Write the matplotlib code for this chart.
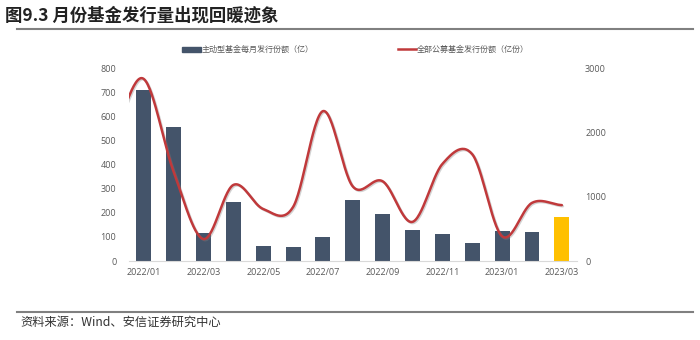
import numpy as np
import matplotlib
matplotlib.use("Agg")
import matplotlib.pyplot as plt
import matplotlib.patheffects as pe
from matplotlib.lines import Line2D
from matplotlib.patches import Patch

plt.rcParams['font.family'] = ['Open Sans', 'Noto Sans CJK SC', 'DejaVu Sans']

# ---------------- DATA ----------------
months = ["2022/01", "2022/02", "2022/03", "2022/04", "2022/05", "2022/06", "2022/07",
          "2022/08", "2022/09", "2022/10", "2022/11", "2022/12", "2023/01", "2023/02",
          "2023/03"]
# active funds, monthly issuance (100m shares)
active_issue = [710, 555, 115, 243, 62, 58, 101, 252, 195, 130, 113, 73, 126, 119, 182]
# all public funds, monthly issuance (100m shares); first value is 2021/12
all_issue_prev = 2100
all_issue = [2830, 1390, 343, 1183, 810, 840, 2330, 1160, 1240, 610, 1510, 1660, 385, 905, 870]

BAR_COLOR = "#44546A"
HIGHLIGHT = "#FFC000"
LINE_COLOR = "#C0393B"
TICK_COLOR = "#595959"


def smooth(xs, ys, n=30):
    # catmull-rom curve through the points, like office "smoothed line"
    xs = np.asarray(xs, float)
    ys = np.asarray(ys, float)
    px = np.concatenate([[2 * xs[0] - xs[1]], xs, [2 * xs[-1] - xs[-2]]])
    py = np.concatenate([[ys[0]], ys, [ys[-1]]])
    out_x, out_y = [], []
    for i in range(1, len(px) - 2):
        t = np.linspace(0, 1, n, endpoint=False)
        mx0 = (px[i + 1] - px[i - 1]) / 2
        mx1 = (px[i + 2] - px[i]) / 2
        my0 = (py[i + 1] - py[i - 1]) / 2
        my1 = (py[i + 2] - py[i]) / 2
        h00 = 2 * t**3 - 3 * t**2 + 1
        h10 = t**3 - 2 * t**2 + t
        h01 = -2 * t**3 + 3 * t**2
        h11 = t**3 - t**2
        out_x.append(h00 * px[i] + h10 * mx0 + h01 * px[i + 1] + h11 * mx1)
        out_y.append(h00 * py[i] + h10 * my0 + h01 * py[i + 1] + h11 * my1)
    out_x.append([xs[-1]])
    out_y.append([ys[-1]])
    return np.concatenate(out_x), np.concatenate(out_y)


fig = plt.figure(figsize=(7, 3.4), dpi=100)
ax = fig.add_axes([0.184, 0.232, 0.64, 0.568])
ax2 = ax.twinx()

x = np.arange(len(months))
colors = [BAR_COLOR] * (len(months) - 1) + [HIGHLIGHT]
ax.bar(x, active_issue, width=0.5, color=colors, zorder=2)

lx, ly = smooth(np.arange(-1, len(months)), [all_issue_prev] + all_issue)
ax2.plot(lx, ly, color=LINE_COLOR, lw=1.8, solid_capstyle="round", zorder=3,
         path_effects=[pe.SimpleLineShadow(offset=(0.8, -0.8), shadow_color="gray", alpha=0.35),
                       pe.Normal()])

ax.set_xlim(-0.5, len(months) - 0.5)
ax.set_ylim(0, 800)
ax.set_yticks(range(0, 801, 100))
ax2.set_ylim(0, 3000)
ax2.set_yticks([0, 1000, 2000, 3000])
ax.set_xticks(x[::2])
ax.set_xticklabels(months[::2])

for a in (ax, ax2):
    for s in a.spines.values():
        s.set_visible(False)
    a.tick_params(length=0, labelsize=6.5, colors=TICK_COLOR)
ax.spines["bottom"].set_visible(True)
ax.spines["bottom"].set_color("#D9D9D9")
ax.tick_params(axis="y", pad=9)
ax.tick_params(axis="x", pad=5)
ax2.tick_params(axis="y", pad=6)

handles = [Patch(color=BAR_COLOR), Line2D([], [], color=LINE_COLOR, lw=1.8)]
labels = ["主动型基金每月发行份额（亿）", "全部公募基金发行份额（亿份）"]
fig.legend(handles, labels, loc="center", bbox_to_anchor=(0.508, 0.853), ncol=2,
           frameon=False, fontsize=5.8, labelcolor=TICK_COLOR, handlelength=2.3,
           handleheight=0.6, handletextpad=0.1, columnspacing=10.5)

# title and source
fig.text(0.007, 0.955, "图9.3 月份基金发行量出现回暖迹象", fontsize=12.5, fontweight="bold",
         family=["Noto Sans CJK SC"], va="center", color="#222222")
fig.add_artist(Line2D([17 / 700, 693 / 700], [1 - 29 / 340] * 2, color="#808080", lw=1.5))
fig.add_artist(Line2D([17 / 700, 693 / 700], [1 - 312 / 340] * 2, color="#808080", lw=1.5))
fig.text(0.029, 1 - 322 / 340, "资料来源：Wind、安信证券研究中心", fontsize=8.8, style="italic",
         family=["Noto Sans CJK SC"], va="center", color="#333333")

fig.savefig("out.png", dpi=100)
